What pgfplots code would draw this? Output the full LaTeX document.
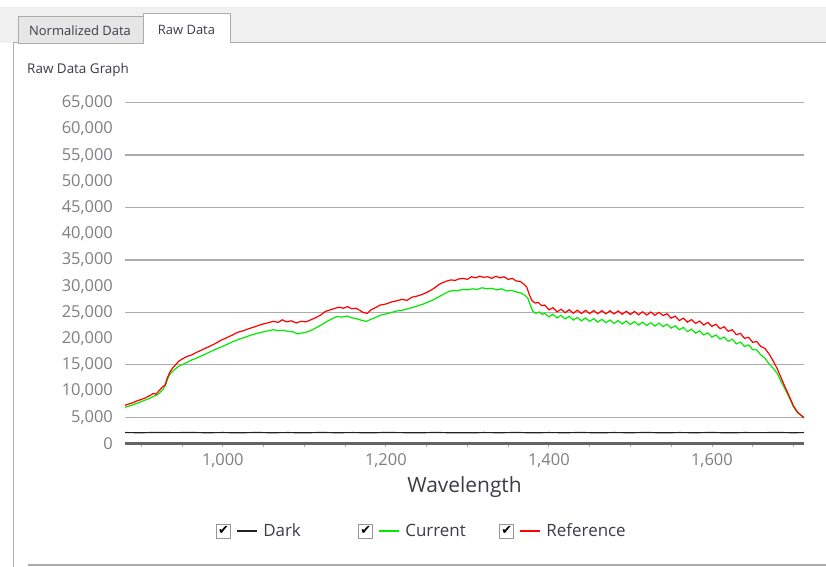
\documentclass[border=0pt]{standalone}
\usepackage{pgfplots}
\pgfplotsset{compat=1.18}
\usepackage{fontspec}
\setmainfont{Open Sans}
\newfontfamily\checkfont{DejaVu Sans}
\definecolor{tickgray}{RGB}{128,128,132}
\definecolor{gridgray}{RGB}{172,172,172}
\definecolor{axisgray}{RGB}{100,100,100}
\definecolor{txtdark}{RGB}{60,60,70}
\definecolor{curgreen}{RGB}{0,235,0}
\definecolor{refred}{RGB}{255,0,0}
\definecolor{darkline}{RGB}{35,35,35}
\definecolor{bandgray}{RGB}{240,240,240}
\definecolor{tabgray}{RGB}{230,230,230}
\definecolor{bordergray}{RGB}{172,172,172}

\begin{document}
\begin{tikzpicture}[x=1bp,y=1bp]
\path[use as bounding box] (0,0) rectangle (826,567);
\fill[white] (0,0) rectangle (826,567);
\fill[bandgray] (0,524) rectangle (826,560);
\draw[bordergray, line width=1bp] (13,0) -- (13,524) -- (826,524);
\draw[draw=bordergray, fill=tabgray] (18,524) rectangle (143,551);
\draw[draw=bordergray, fill=white] (143,524) -- (143,554) -- (230,554) -- (230,524);
\fill[white] (143.6,523.2) rectangle (229.4,524.8);
\node[font=\fontsize{13}{15}\selectfont, text=txtdark] at (80,536) {Normalized Data};
\node[font=\fontsize{13}{15}\selectfont, text=txtdark] at (186.5,537) {Raw Data};
\draw[bordergray, line width=1.2bp] (28,2) -- (826,2);

\begin{axis}[
  at={(125bp,123.5bp)}, anchor=south west,
  scale only axis, width=679bp, height=340.8bp,
  xmin=880, xmax=1713, ymin=0, ymax=65000,
  axis lines*=left,
  x axis line style={-, line width=3bp, color=axisgray},
  y axis line style={draw=none},
  xtick={900,950,...,1700},
  xticklabels={,,{1,000},,,,{1,200},,,,{1,400},,,,{1,600},,},
  xtick style={draw=gridgray, line width=0.8bp},
  x tick label style={font=\fontsize{16.5}{18}\selectfont, text=tickgray, inner sep=0pt, yshift=-6bp},
  tick align=outside, major tick length=4bp,
  ytick={0,5000,...,65000},
  ytick style={draw=none},
  scaled y ticks=false,
  y tick label style={font=\fontsize{16.5}{18}\selectfont, text=tickgray, inner sep=0pt, xshift=-8bp},
  yticklabel={\pgfmathprintnumber[fixed,1000 sep={,},assume math mode=true]{\tick}},
  extra y ticks={5000,15000,...,65000},
  extra y tick labels={},
  extra y tick style={grid=major, major grid style={gridgray, line width=1.3bp}},
  xlabel={Wavelength},
  xlabel style={at={(axis description cs:0.5,0)}, anchor=center, yshift=-44bp, font=\fontsize{21}{24}\selectfont, text=txtdark},
  title={Raw Data Graph},
  title style={at={(axis description cs:-0.1443,1.1018)}, anchor=west, yshift=-8bp, inner sep=0pt, font=\fontsize{13.5}{15}\selectfont, text=txtdark},
  clip=false,
  legend columns=3,
  legend style={at={(axis description cs:0.134,-0.2567)}, anchor=west, draw=none, fill=none, inner sep=0pt,
    font=\fontsize{17}{19}\selectfont, text=txtdark,
    nodes={inner sep=0pt},
    /tikz/every odd column/.append style={column sep=6bp}},
  legend image code/.code={
    \draw[draw={rgb,255:red,150;green,150;blue,150}, fill=white, line width=0.9bp] (0bp,-7bp) rectangle (14bp,7bp);
    \node[inner sep=0pt, font=\checkfont\fontsize{13}{13}\selectfont, text=black] at (7bp,-0.3bp) {✔};
    \draw[#1, line width=1.3bp] (20bp,0bp) -- (40bp,0bp);
  },
]
\addplot[darkline, line width=1.2bp] coordinates {
(880,2080) (900,2060) (920,2100) (940,2070) (960,2090) (980,2060) (1000,2080) (1020,2050) (1040,2090)
(1060,2060) (1080,2080) (1100,2050) (1120,2090) (1140,2060) (1160,2080) (1180,2050) (1200,2090)
(1220,2070) (1240,2050) (1260,2090) (1280,2060) (1300,2040) (1320,2080) (1340,2060) (1360,2090)
(1380,2050) (1400,2080) (1420,2060) (1440,2090) (1460,2050) (1480,2080) (1500,2060) (1520,2090)
(1540,2050) (1560,2080) (1580,2060) (1600,2090) (1620,2050) (1640,2080) (1660,2070) (1680,2090)
(1700,2060) (1713,2080)
};
\addlegendentry{\makebox[95bp][l]{Dark}}
\addplot[curgreen, line width=1.2bp] coordinates {
(880,6900) (885,7150) (890,7400) (895,7700) (900,8000) (905,8300) (910,8600) (915,9000) (920,9300)
(924,9900) (927,10400) (930,11300) (933,12600) (936,13400) (940,14000) (944,14500) (948,14900)
(954,15300) (960,15800) (968,16300) (975,16800) (982,17300) (990,17900) (998,18400) (1005,18900)
(1012,19400) (1020,19900) (1028,20300) (1035,20700) (1042,21000) (1050,21300) (1056,21500)
(1062,21700) (1068,21500) (1074,21600) (1080,21400) (1086,21300) (1092,20900) (1098,21100)
(1104,21300) (1110,21700) (1116,22200) (1122,22700) (1128,23300) (1134,23800) (1140,24200)
(1146,24100) (1152,24300) (1158,24000) (1164,23800) (1170,23500) (1176,23300) (1182,23700)
(1188,24100) (1194,24500) (1200,24700) (1207,25000) (1214,25300) (1220,25400) (1227,25700)
(1234,26000) (1240,26300) (1246,26600) (1252,27000) (1258,27400) (1264,27900) (1270,28400)
(1276,28900) (1282,29200) (1288,29100) (1294,29400) (1300,29300) (1306,29500) (1312,29400)
(1318,29700) (1324,29500) (1330,29600) (1336,29300) (1342,29500) (1348,29100) (1354,29200)
(1360,28900) (1366,28700) (1371,28200) (1374,27800) (1377,26500) (1380,25300) (1384,24800)
(1388,25100) (1392,24600)
(1395,24850) (1400,24150) (1405,24650) (1410,23950) (1415,24450) (1420,23750) (1425,24250)
(1430,23550) (1435,24050) (1440,23400) (1445,23940) (1450,23280) (1455,23810) (1460,23150)
(1465,23690) (1470,23030) (1475,23560) (1480,22900) (1485,23450) (1490,22800) (1495,23350)
(1500,22700) (1505,23250) (1510,22600) (1515,23150) (1520,22500) (1525,23050) (1530,22400)
(1535,22950) (1540,22300) (1545,22750) (1550,22000) (1555,22450) (1560,21700) (1565,22130)
(1570,21350) (1575,21800) (1580,21050) (1585,21500) (1590,20700) (1595,21100) (1600,20300)
(1605,20700) (1610,19900) (1615,20300) (1620,19500) (1625,19900) (1630,19000) (1635,19350)
(1640,18500) (1645,18800) (1650,17900) (1655,17850) (1660,16900) (1665,16300) (1670,15200)
(1675,14400) (1680,13400) (1685,11800) (1690,10300) (1695,8700) (1700,7000) (1705,5900)
(1710,5300) (1713,5000)
};
\addlegendentry{\makebox[94bp][l]{Current}}
\addplot[refred, line width=1.2bp] coordinates {
(880,7300) (885,7550) (890,7800) (895,8150) (900,8400) (905,8700) (910,9100) (915,9550) (918,9400)
(922,10100) (926,10800) (929,11100) (932,12500) (935,13600) (938,14300) (942,15000) (946,15700)
(950,16100) (956,16600) (962,16900) (968,17400) (975,17900) (982,18400) (990,19000) (998,19700)
(1005,20200) (1012,20700) (1018,21200) (1025,21500) (1032,21900) (1040,22300) (1047,22700)
(1055,23000) (1062,23300) (1068,23100) (1073,23600) (1078,23200) (1084,23400) (1090,23000)
(1096,23300) (1102,23200) (1108,23600) (1114,24000) (1120,24500) (1126,25200) (1132,25500)
(1138,25800) (1143,26000) (1148,25800) (1153,26100) (1158,25700) (1163,25800) (1168,25400)
(1172,25000) (1177,24800) (1182,25500) (1187,25900) (1193,26400) (1200,26600) (1207,27000)
(1213,27200) (1220,27500) (1226,27300) (1232,27900) (1238,28100) (1244,28400) (1250,28800)
(1255,29200) (1260,29700) (1265,30300) (1270,30700) (1275,31000) (1280,31200) (1285,31100)
(1290,31400) (1295,31500) (1300,31300) (1305,31800) (1310,31600) (1315,31900) (1320,31700)
(1325,31800) (1330,31500) (1335,31900) (1340,31600) (1345,31800) (1350,31300) (1355,31500)
(1360,31000) (1365,30900) (1370,30300) (1373,29800) (1376,28400) (1379,27300) (1383,26800)
(1387,26900) (1391,26300)
(1395,26400) (1400,25500) (1405,25900) (1410,25100) (1415,25600) (1420,24950) (1425,25500)
(1430,24850) (1435,25420) (1440,24800) (1445,25390) (1450,24780) (1455,25360) (1460,24750)
(1465,25340) (1470,24730) (1475,25310) (1480,24700) (1485,25280) (1490,24650) (1495,25220)
(1500,24600) (1505,25180) (1510,24550) (1515,25120) (1520,24500) (1525,25080) (1530,24450)
(1535,25020) (1540,24400) (1545,24750) (1550,23900) (1555,24300) (1560,23450) (1565,23900)
(1570,23150) (1575,23630) (1580,22900) (1585,23350) (1590,22600) (1595,23100) (1600,22350)
(1605,22750) (1610,21900) (1615,22250) (1620,21400) (1625,21700) (1630,20750) (1635,21000)
(1640,20050) (1645,20250) (1650,19300) (1655,19450) (1660,18500) (1665,18150) (1670,17100)
(1675,15800) (1680,14300) (1685,12500) (1690,10700) (1695,9000) (1700,7200) (1705,6000)
(1710,5300) (1713,4900)
};
\addlegendentry{Reference}
\end{axis}
\end{tikzpicture}
\end{document}
